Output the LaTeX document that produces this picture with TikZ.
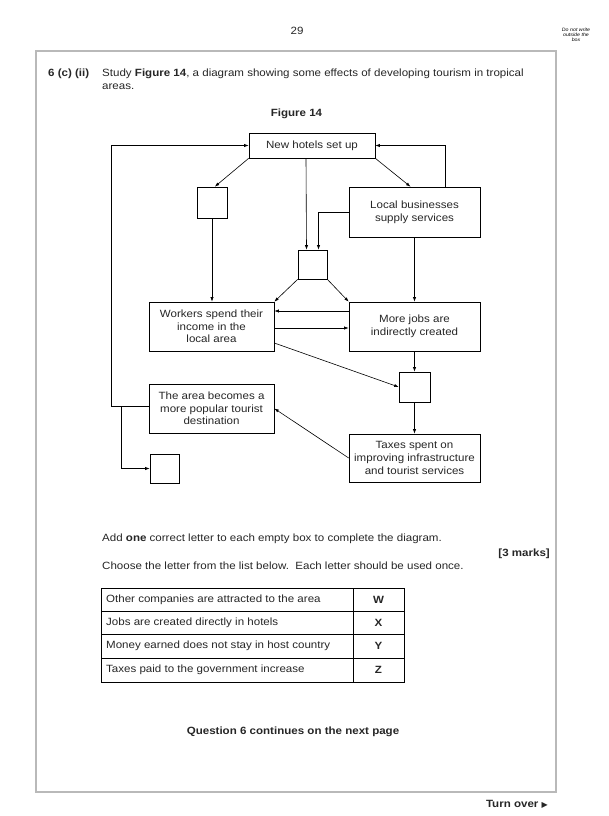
\documentclass[tikz,border=0pt]{standalone}
\usepackage{fontspec}
\setmainfont[FakeStretch=1.1]{Liberation Sans}
\newfontfamily\symfont{DejaVu Sans}
\usetikzlibrary{arrows.meta,positioning,calc}

\begin{document}
\begin{tikzpicture}[x=1pt, y=-1pt,
  cell/.style={draw, align=center, inner sep=1pt, line width=0.6pt, text=black!85, font=\fontsize{10.5}{12.6}\selectfont},
  blank/.style={draw, line width=0.6pt, minimum width=29pt, minimum height=29pt, inner sep=0pt},
  label/.style={inner sep=0pt, text=black!85, font=\fontsize{10.5}{13}\selectfont},
  arr/.style={-{Latex[length=4.5pt, width=3.2pt]}, line width=0.6pt}
]
\useasboundingbox (0,0) rectangle (609,816);
\draw[gray!55, line width=1.2pt] (36,51) rectangle (556,792);

% page header
\node[label, anchor=base] (page) at (297,35) {29};
\node[inner sep=0pt, align=center, font=\fontsize{4.8}{5}\selectfont\itshape] (margin) at (576,35) {Do not write\\outside the\\box};

% question
\node[label, anchor=base west, font=\fontsize{10.5}{13}\selectfont\bfseries] (qnum) at (48,76) {6 (c) (ii)};
\node[label, anchor=base west] (qline1) at (102,76) {Study \textbf{Figure 14}, a diagram showing some effects of developing tourism in tropical};
\node[label, anchor=base west] (qline2) at (102,89) {areas.};
\node[label, anchor=base, font=\fontsize{10.5}{13}\selectfont\bfseries] (figtitle) at (296.5,116.5) {Figure 14};

% diagram boxes
\node[cell, minimum width=126pt, minimum height=25pt] (hotels) at (312,145.5) {New hotels set up};
\node[blank, minimum width=30pt, minimum height=31pt] (boxA) at (212,202.5) {};
\node[cell, minimum width=131pt, minimum height=50pt] (local) at (414.5,212) {Local businesses\\supply services};
\node[blank] (boxB) at (312.5,264.5) {};
\node[cell, minimum width=125pt, minimum height=49pt] (workers) at (211.5,326.5) {Workers spend their\\income in the\\local area};
\node[cell, minimum width=131pt, minimum height=49pt] (jobs) at (414.5,326.5) {More jobs are\\indirectly created};
\node[blank, minimum width=31pt, minimum height=30pt] (boxC) at (414.5,387) {};
\node[cell, minimum width=125pt, minimum height=49pt] (area) at (211.5,408.5) {The area becomes a\\more popular tourist\\destination};
\node[cell, minimum width=131pt, minimum height=48pt] (taxes) at (414.5,458) {Taxes spent on\\improving infrastructure\\and tourist services};
\node[blank] (boxD) at (164.5,468.5) {};

% connectors
\draw[arr] (hotels.south west) -- (boxA.80);
\draw[arr] (hotels.south east) -- ([xshift=-4]local.north);
\draw[arr] ([xshift=-6]hotels.south) -- ([xshift=-6]boxB.north);
\draw[arr] (local.west) -| ([xshift=6]boxB.north);
\draw[arr] ([xshift=30.5]local.north) |- (hotels.east);
\draw[arr] (boxA.south) -- (boxA.south |- workers.north);
\draw[arr] (local.south) -- (jobs.north);
\draw[arr] (boxB.south west) -- (workers.north east);
\draw[arr] (boxB.south east) -- (jobs.north west);
\draw[arr] ([yshift=15.5]jobs.west) -- ([yshift=15.5]jobs.west -| workers.east);
\draw[arr] ([yshift=-1.5]workers.east) -- ([yshift=-1.5]workers.east -| jobs.west);
\draw[arr] ([yshift=-16.5]workers.east) -- (boxC.west);
\draw[arr] (jobs.south) -- (boxC.north);
\draw[arr] (boxC.south) -- (taxes.north);
\draw[arr] (taxes.west) -- (area.east);
\draw[arr] ([yshift=2.5]area.west) -- ++(-37,0) |- (hotels.west);
\draw[arr] ([xshift=-27, yshift=2.5]area.west) |- (boxD.west);

% instructions
\node[label, anchor=base west] (add) at (102,541) {Add \textbf{one} correct letter to each empty box to complete the diagram.};
\node[label, anchor=base east, font=\fontsize{10.5}{13}\selectfont\bfseries] (marks) at (550,556) {[3 marks]};
\node[label, anchor=base west] (choose) at (102,569) {Choose the letter from the list below.\ \ Each letter should be used once.};

% letter table
\draw[line width=0.6pt] (101,588) rectangle (404,682);
\draw[line width=0.6pt] (353,588) -- (353,682);
\foreach \y in {611,634,658} \draw[line width=0.6pt] (101,\y) -- (404,\y);
\foreach \y/\txt/\ltr [count=\i] in {599.5/Other companies are attracted to the area/W,
    622.5/Jobs are created directly in hotels/X,
    646/Money earned does not stay in host country/Y,
    670/Taxes paid to the government increase/Z} {
  \node[label, anchor=west] (row\i) at (106,\y) {\txt};
  \node[label, font=\fontsize{10.5}{13}\selectfont\bfseries] (letter\i) at (378.5,\y) {\ltr};
}

% footer
\node[label, anchor=base, font=\fontsize{10.5}{13}\selectfont\bfseries] (cont) at (293,734) {Question 6 continues on the next page};
\node[label, anchor=base east, font=\fontsize{10.5}{13}\selectfont\bfseries] (turn) at (548,807) {Turn over {\symfont\fontsize{8}{8}\selectfont ▶}};
\end{tikzpicture}
\end{document}
